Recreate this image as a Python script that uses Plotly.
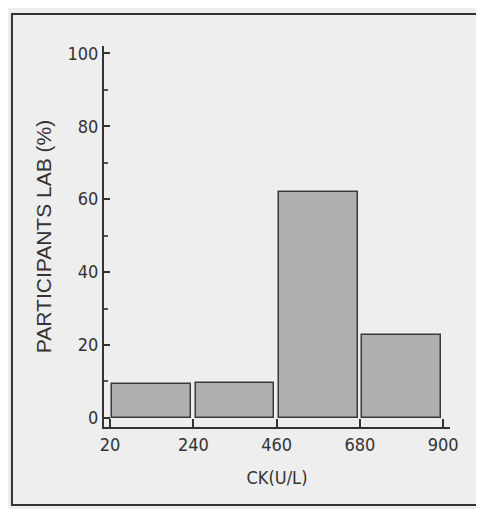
import plotly.graph_objects as go

bin_edges = [20, 240, 460, 680, 900]
bin_centers = [130, 350, 570, 790]
percent_values = [9.3, 9.6, 62, 22.7]
x_tick_labels = ["20", "240", "460", "680", "900"]
y_tick_values = [0, 20, 40, 60, 80, 100]

font_family = "Liberation Sans Narrow, DejaVu Sans Condensed, Liberation Sans, Arial"

fig = go.Figure()
fig.add_trace(go.Bar(
    x=bin_centers, y=percent_values, width=208,
    marker=dict(color="#b0b0b0", line=dict(color="#3a3a3a", width=1.5)),
    showlegend=False, hoverinfo="skip",
))

fig.update_layout(
    width=476, height=501,
    margin=dict(l=96, r=34, t=38, b=82),
    paper_bgcolor="#eeeeee", plot_bgcolor="#eeeeee",
    font=dict(family=font_family, color="#333333", size=17),
    xaxis=dict(
        range=[4, 918], tickmode="array", tickvals=bin_edges, ticktext=x_tick_labels,
        ticks="inside", ticklen=8, tickcolor="#333333", tickwidth=1.5,
        showline=True, linecolor="#333333", linewidth=2, showgrid=False, zeroline=False,
        title=dict(text="CK(U/L)", font=dict(size=18), standoff=18),
        tickfont=dict(size=18),
    ),
    yaxis=dict(
        range=[-2.5, 102], tickmode="array", tickvals=y_tick_values,
        ticks="inside", ticklen=6, tickcolor="#333333", tickwidth=1.5,
        minor=dict(tickvals=[10, 30, 50, 70, 90], ticks="inside", ticklen=4, tickcolor="#555555"),
        showline=True, linecolor="#333333", linewidth=2, showgrid=False, zeroline=False,
        title=dict(text="PARTICIPANTS LAB (%)",
                   font=dict(size=21, family="Liberation Sans, Arial"), standoff=10),
        tickfont=dict(size=18),
    ),
    bargap=0,
)

fig.add_shape(type="rect", xref="paper", yref="paper",
              x0=-0.266, x1=1.14, y0=-0.205, y1=1.084,
              line=dict(color="#333333", width=2), fillcolor="rgba(0,0,0,0)")

fig.write_html("out.html")
